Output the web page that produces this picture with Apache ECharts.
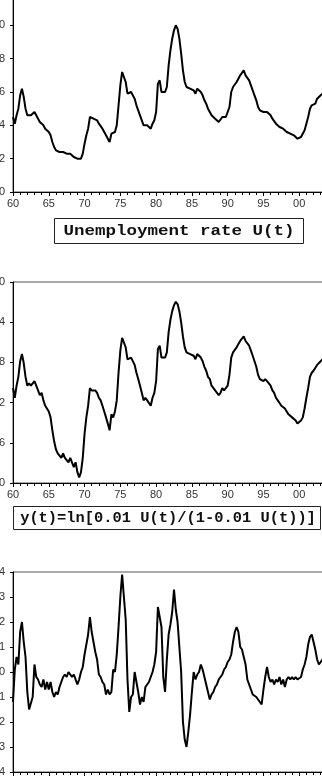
<!DOCTYPE html>
<html>
<head>
<meta charset="utf-8">
<script src="https://cdn.jsdelivr.net/npm/echarts@6/dist/echarts.min.js"></script>
<style>
  html, body {margin: 0; padding: 0; background: #fff;}
  #chart {width: 322px; height: 776px;}
</style>
</head>
<body>
<div id="chart"></div>
<script>
// quarterly observations, first one at 1960.00
const START_YEAR = 1960;
const STEP = 0.25;

// unemployment rate U(t), in percent
const unemployment = [
  4.5, 4.1, 4.6, 5.0, 5.8, 6.2, 5.7, 5.0, 4.6, 4.7, 4.6, 4.6, 4.8, 4.6, 4.4, 4.2,
  4.3, 4.0, 3.8, 3.8, 3.6, 3.4, 3.0, 2.7, 2.5, 2.4, 2.4, 2.3, 2.4, 2.3, 2.3, 2.2,
  2.3, 2.3, 2.1, 2.2, 2.0, 1.9, 2.0, 2.3, 2.9, 3.4, 3.8, 4.5, 4.4, 4.4, 4.4, 4.3,
  4.1, 4.0, 3.8, 3.6, 3.4, 3.2, 3.0, 3.5, 3.4, 3.6, 4.0, 5.2, 6.4, 7.2, 6.9, 6.6,
  5.9, 5.9, 6.0, 5.9, 5.6, 5.2, 4.9, 4.6, 4.3, 4.0, 4.1, 4.0, 4.0, 3.8, 4.1, 4.3,
  4.8, 6.5, 6.7, 6.0, 5.9, 6.0, 6.3, 7.6, 8.5, 9.2, 9.7, 10.0, 9.8, 9.2, 8.3, 7.3,
  6.6, 6.3, 6.2, 6.2, 6.1, 6.1, 5.9, 6.2, 6.2, 6.0, 5.8, 5.5, 5.3, 5.0, 4.9, 4.6,
  4.6, 4.4, 4.4, 4.2, 4.3, 4.5, 4.4, 4.5, 4.6, 5.1, 6.0, 6.3, 6.4, 6.6, 6.8, 7.0,
  7.1, 7.3, 7.0, 6.9, 6.7, 6.4, 6.1, 5.8, 5.5, 5.1, 4.9, 4.9, 4.8, 4.9, 4.8, 4.7,
  4.6, 4.4, 4.3, 4.1, 4.0, 3.9, 3.8, 3.8, 3.7, 3.6, 3.5, 3.5, 3.4, 3.4, 3.3, 3.2,
  3.2, 3.3, 3.4, 3.7, 4.1, 4.5, 5.0, 5.2, 5.3, 5.3, 5.6, 5.5, 5.8, 5.9, 6.0
];

// y(t) = ln[0.01 U(t)/(1-0.01 U(t))]
const logitU = [
  -3.055, -3.152, -3.032, -2.944, -2.788, -2.717, -2.806, -2.944, -3.032, -3.009, -3.032, -3.032, -2.987, -3.032, -3.079, -3.127,
  -3.103, -3.178, -3.231, -3.231, -3.288, -3.347, -3.476, -3.585, -3.664, -3.705, -3.705, -3.749, -3.705, -3.749, -3.749, -3.794,
  -3.749, -3.749, -3.842, -3.794, -3.892, -3.944, -3.892, -3.749, -3.511, -3.347, -3.231, -3.055, -3.079, -3.079, -3.079, -3.103,
  -3.152, -3.178, -3.231, -3.288, -3.347, -3.409, -3.476, -3.317, -3.347, -3.288, -3.178, -2.903, -2.683, -2.556, -2.602, -2.650,
  -2.769, -2.769, -2.752, -2.769, -2.825, -2.903, -2.966, -3.032, -3.103, -3.178, -3.152, -3.178, -3.178, -3.231, -3.152, -3.103,
  -2.987, -2.666, -2.634, -2.752, -2.769, -2.752, -2.700, -2.498, -2.376, -2.290, -2.231, -2.197, -2.220, -2.290, -2.402, -2.542,
  -2.650, -2.700, -2.717, -2.717, -2.734, -2.734, -2.769, -2.717, -2.717, -2.752, -2.788, -2.844, -2.883, -2.944, -2.966, -3.032,
  -3.032, -3.079, -3.079, -3.127, -3.103, -3.055, -3.079, -3.055, -3.032, -2.924, -2.752, -2.700, -2.683, -2.650, -2.618, -2.587,
  -2.571, -2.542, -2.587, -2.602, -2.634, -2.683, -2.734, -2.788, -2.844, -2.924, -2.966, -2.966, -2.987, -2.966, -2.987, -3.009,
  -3.032, -3.079, -3.103, -3.152, -3.178, -3.204, -3.231, -3.231, -3.259, -3.288, -3.317, -3.317, -3.347, -3.347, -3.378, -3.409,
  -3.409, -3.378, -3.347, -3.259, -3.152, -3.055, -2.944, -2.903, -2.883, -2.883, -2.825, -2.844, -2.788, -2.769, -2.752
];

// cyclical component of y(t)
const cycle = [
  -0.12, 0.01, 0.06, 0.03, 0.16, 0.20, 0.12, 0.06, -0.08, -0.15, -0.15, -0.10, 0.03, -0.02, -0.03, -0.05,
  -0.06, -0.03, -0.07, -0.04, -0.07, -0.04, -0.08, -0.10, -0.08, -0.09, -0.06, -0.04, -0.02, -0.01, -0.02, 0.00,
  0.00, -0.02, -0.01, -0.03, -0.05, -0.03, 0.00, 0.02, 0.07, 0.11, 0.15, 0.22, 0.16, 0.12, 0.08, 0.05,
  -0.01, -0.02, -0.04, -0.05, -0.09, -0.07, -0.09, -0.08, 0.01, 0.00, 0.07, 0.18, 0.30, 0.39, 0.30, 0.21,
  -0.03, -0.16, -0.10, -0.09, 0.00, -0.04, -0.08, -0.13, -0.10, -0.12, -0.06, -0.05, -0.04, -0.02, 0.00, 0.03,
  0.08, 0.26, 0.26, 0.18, -0.02, -0.08, 0.05, 0.15, 0.19, 0.24, 0.33, 0.25, 0.20, 0.10, 0.00, -0.20,
  -0.27, -0.30, -0.24, -0.17, -0.08, 0.00, -0.03, -0.01, 0.00, 0.03, 0.01, 0.01, -0.05, -0.08, -0.11, -0.09,
  -0.08, -0.06, -0.05, -0.03, -0.02, -0.01, 0.01, 0.02, 0.04, 0.05, 0.07, 0.12, 0.16, 0.18, 0.16, 0.10,
  0.09, 0.06, 0.03, -0.03, -0.05, -0.07, -0.09, -0.09, -0.10, -0.11, -0.11, -0.13, -0.07, -0.02, 0.02, -0.02,
  -0.04, -0.03, -0.05, -0.03, -0.04, -0.02, -0.05, -0.03, -0.06, -0.03, -0.02, -0.03, -0.02, -0.03, -0.02, -0.03,
  -0.03, -0.02, 0.01, 0.03, 0.06, 0.11, 0.14, 0.15, 0.12, 0.09, 0.05, 0.03, 0.04, 0.05, 0.06
];

const panelTitles = ["Unemployment rate U(t)", "y(t)=ln[0.01 U(t)/(1-0.01 U(t))]"];

const withTime = (values) => values.map((v, i) => [START_YEAR + i * STEP, v]);

const LABEL_FONT = "Liberation Sans";
const AXIS_COLOR = "#000";

function xAxisFor(gridIndex) {
  return {
    type: "value",
    gridIndex,
    min: 1960,
    max: 2005,
    interval: 5,
    axisLine: {show: true, onZero: false, lineStyle: {color: AXIS_COLOR, width: 1}},
    axisTick: {show: true, length: 4, lineStyle: {color: AXIS_COLOR}},
    minorTick: {show: true, splitNumber: 5, length: 3, lineStyle: {color: AXIS_COLOR}},
    splitLine: {show: false},
    axisLabel: {
      margin: 6,
      fontFamily: LABEL_FONT,
      fontSize: 11,
      color: "#333",
      formatter: v => String(v % 100).padStart(2, "0"),
    },
  };
}

function yAxisFor(gridIndex, min, max, interval, digits) {
  return {
    type: "value",
    gridIndex,
    min,
    max,
    interval,
    axisLine: {show: true, onZero: false, lineStyle: {color: AXIS_COLOR, width: 1}},
    axisTick: {show: true, length: 3, lineStyle: {color: AXIS_COLOR}},
    splitLine: {show: false},
    axisLabel: {
      margin: 8,
      fontFamily: LABEL_FONT,
      fontSize: 11,
      color: "#333",
      formatter: v => v.toFixed(digits),
    },
  };
}

function lineSeries(index, values) {
  return {
    type: "line",
    xAxisIndex: index,
    yAxisIndex: index,
    data: withTime(values),
    showSymbol: false,
    symbol: "none",
    lineStyle: {color: "#000", width: 2},
    animation: false,
  };
}

const gridBase = {left: 13, right: -13, show: true, borderColor: "#555", borderWidth: 1,
  containLabel: false, outerBoundsMode: "none"};

const chart = echarts.init(document.getElementById("chart"), null, {renderer: "canvas"});

chart.setOption({
  backgroundColor: "#fff",
  animation: false,
  grid: [
    {...gridBase, top: -8, bottom: 584},
    {...gridBase, top: 282, bottom: 293},
    {...gridBase, top: 572, bottom: 4},
  ],
  xAxis: [xAxisFor(0), xAxisFor(1), xAxisFor(2)],
  yAxis: [
    yAxisFor(0, 0, 12, 2, 0),
    yAxisFor(1, -4.0, -2.0, 0.4, 1),
    yAxisFor(2, -0.4, 0.4, 0.1, 1),
  ],
  series: [
    lineSeries(0, unemployment),
    lineSeries(1, logitU),
    lineSeries(2, cycle),
  ],
  graphic: [
    {type: "rect", shape: {x: 54.5, y: 218.5, width: 249, height: 25},
      style: {fill: "#fff", stroke: "#222", lineWidth: 1}},
    {type: "text", x: 179, y: 231, scaleX: 1.25,
      style: {text: panelTitles[0], font: "bold 14px \"Liberation Mono\"", fill: "#111",
        textAlign: "center", textVerticalAlign: "middle"}},
    {type: "rect", shape: {x: 13.5, y: 506.5, width: 307, height: 23},
      style: {fill: "#fff", stroke: "#222", lineWidth: 1}},
    {type: "text", x: 168, y: 518, scaleX: 1.1,
      style: {text: panelTitles[1], font: "bold 14px \"Liberation Mono\"", fill: "#111",
        textAlign: "center", textVerticalAlign: "middle"}},
  ],
});
</script>
</body>
</html>
